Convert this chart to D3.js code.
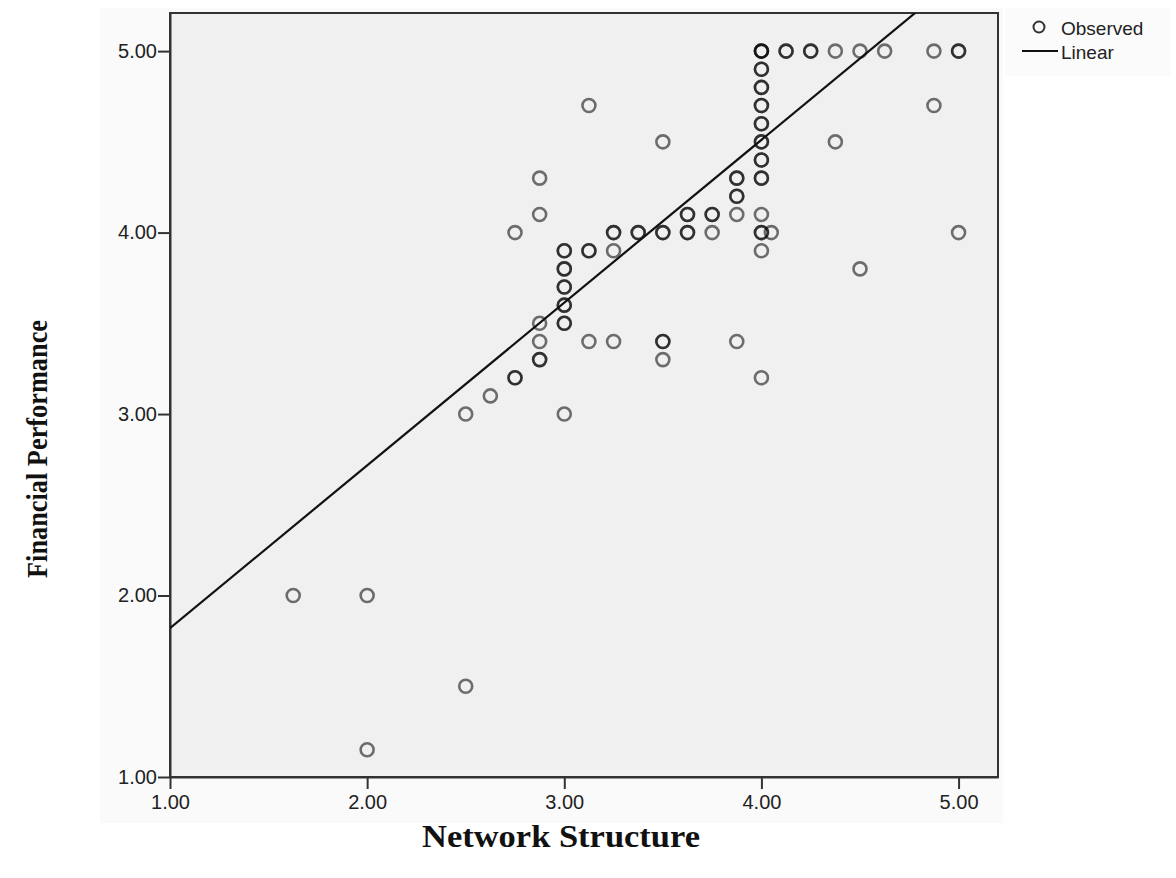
<!DOCTYPE html>
<meta charset="utf-8">
<script src="https://d3js.org/d3.v7.min.js"></script>
<style>
  body { margin: 0; background: #fff; }
  text { font-family: "Liberation Sans", Arial, sans-serif; fill: #222; }
  .title { font-family: "Liberation Serif", "Times New Roman", serif; font-weight: bold; fill: #111; }
</style>
<body>
<div id="my_dataviz"></div>
<script>
// observed points: network structure (x), financial performance (y), number of cases at that spot
var netStructure = [1.625, 2.0, 2.0, 2.5, 2.5, 2.625, 2.75, 2.75,
  2.875, 2.875, 2.875, 2.875, 2.875,
  3.0, 3.0, 3.0, 3.0, 3.0, 3.0,
  3.125, 3.125, 3.125, 3.25, 3.25, 3.25, 3.375,
  3.5, 3.5, 3.5, 3.5, 3.625, 3.625, 3.75, 3.75,
  3.875, 3.875, 3.875, 3.875,
  4.0, 4.0, 4.0, 4.0, 4.0, 4.0, 4.0, 4.0, 4.0, 4.0, 4.0, 4.0, 4.05,
  4.125, 4.25, 4.375, 4.375, 4.5, 4.5, 4.625, 4.875, 4.875, 5.0, 5.0];
var finPerformance = [2.0, 2.0, 1.15, 1.5, 3.0, 3.1, 3.2, 4.0,
  4.3, 4.1, 3.5, 3.4, 3.3,
  3.9, 3.8, 3.7, 3.6, 3.5, 3.0,
  4.7, 3.9, 3.4, 4.0, 3.9, 3.4, 4.0,
  4.5, 4.0, 3.4, 3.3, 4.1, 4.0, 4.1, 4.0,
  4.3, 4.2, 4.1, 3.4,
  5.0, 4.9, 4.8, 4.7, 4.6, 4.5, 4.4, 4.3, 4.1, 4.0, 3.9, 3.2, 4.0,
  5.0, 5.0, 5.0, 4.5, 5.0, 3.8, 5.0, 5.0, 4.7, 5.0, 4.0];
var caseCount = [1, 1, 1, 1, 1, 1, 2, 1,
  1, 1, 1, 1, 2,
  2, 2, 2, 2, 2, 1,
  1, 2, 1, 2, 1, 1, 2,
  1, 2, 2, 1, 2, 2, 2, 1,
  2, 2, 1, 1,
  3, 2, 2, 2, 2, 2, 2, 2, 1, 2, 1, 1, 1,
  2, 2, 1, 1, 1, 1, 1, 1, 1, 2, 1];

// linear fit: intercept, slope
var linearFit = [0.923, 0.897];

var xTicks = [1, 2, 3, 4, 5];
var yTicks = [1, 2, 3, 4, 5];
var legendLabels = ["Observed", "Linear"];

var W = 1176, H = 878;
var plot = {left: 170, top: 13, right: 998, bottom: 777};

var svg = d3.select("#my_dataviz")
  .append("svg")
    .attr("width", W)
    .attr("height", H);

// faint chart background boxes
svg.append("rect")
  .attr("x", 100).attr("y", 8).attr("width", 903).attr("height", 815)
  .attr("fill", "#fafafa");
svg.append("rect")
  .attr("x", 1005).attr("y", 8).attr("width", 165).attr("height", 68)
  .attr("fill", "#fbfbfb");

var x = d3.scaleLinear()
  .domain([1, 5.2])
  .range([plot.left, plot.right]);
var y = d3.scaleLinear()
  .domain([1, 5.21])
  .range([plot.bottom, plot.top]);

svg.append("rect")
  .attr("x", plot.left).attr("y", plot.top)
  .attr("width", plot.right - plot.left).attr("height", plot.bottom - plot.top)
  .attr("fill", "#f0f0f0")
  .attr("stroke", "#333")
  .attr("stroke-width", 2);

svg.append("clipPath").attr("id", "clip")
  .append("rect")
  .attr("x", plot.left).attr("y", plot.top)
  .attr("width", plot.right - plot.left).attr("height", plot.bottom - plot.top);

// axes
var xAxis = svg.append("g")
  .attr("transform", "translate(0," + plot.bottom + ")")
  .call(d3.axisBottom(x).tickValues(xTicks).tickFormat(d3.format(".2f"))
    .tickSizeInner(12).tickSizeOuter(0).tickPadding(6));
var yAxis = svg.append("g")
  .attr("transform", "translate(" + plot.left + ",0)")
  .call(d3.axisLeft(y).tickValues(yTicks).tickFormat(d3.format(".2f"))
    .tickSizeInner(12).tickSizeOuter(0).tickPadding(1));
[xAxis, yAxis].forEach(function(a) {
  a.select(".domain").attr("stroke", "#333").attr("stroke-width", 2);
  a.selectAll(".tick line").attr("stroke", "#333").attr("stroke-width", 2);
  a.selectAll(".tick text")
    .attr("font-size", 20)
    .attr("font-family", "'Liberation Sans', Arial, sans-serif")
    .attr("fill", "#222");
});

// points, one ring per case so overlaps come out darker
var pts = [];
netStructure.forEach(function(v, i) {
  for (var k = 0; k < caseCount[i]; k++) pts.push({x: v, y: finPerformance[i]});
});
svg.append("g")
  .selectAll("circle")
  .data(pts)
  .enter()
  .append("circle")
    .attr("cx", function(d) { return x(d.x); })
    .attr("cy", function(d) { return y(d.y); })
    .attr("r", 6.5)
    .attr("fill", "none")
    .attr("stroke", "#000")
    .attr("stroke-opacity", 0.55)
    .attr("stroke-width", 2.6);

// fit line
svg.append("line")
  .attr("clip-path", "url(#clip)")
  .attr("x1", x(1)).attr("y1", y(linearFit[0] + linearFit[1] * 1))
  .attr("x2", x(5.2)).attr("y2", y(linearFit[0] + linearFit[1] * 5.2))
  .attr("stroke", "#111")
  .attr("stroke-width", 2.2);

// legend
var lg = svg.append("g");
lg.append("circle")
  .attr("cx", 1039).attr("cy", 27).attr("r", 5.5)
  .attr("fill", "none").attr("stroke", "#333").attr("stroke-width", 2);
lg.append("line")
  .attr("x1", 1022).attr("x2", 1058).attr("y1", 51).attr("y2", 51)
  .attr("stroke", "#111").attr("stroke-width", 2);
lg.selectAll("text")
  .data(legendLabels)
  .enter()
  .append("text")
    .attr("x", 1061)
    .attr("y", function(d, i) { return 35 + i * 24; })
    .attr("font-size", 19)
    .text(function(d) { return d; });

// axis titles
svg.append("text")
  .attr("class", "title")
  .attr("x", 561).attr("y", 847)
  .attr("text-anchor", "middle")
  .attr("font-size", 31)
  .attr("textLength", 278)
  .attr("lengthAdjust", "spacingAndGlyphs")
  .text("Network Structure");
svg.append("text")
  .attr("class", "title")
  .attr("transform", "translate(47,449) rotate(-90)")
  .attr("text-anchor", "middle")
  .attr("font-size", 29)
  .attr("textLength", 258)
  .attr("lengthAdjust", "spacingAndGlyphs")
  .text("Financial Performance");
</script>
</body>
